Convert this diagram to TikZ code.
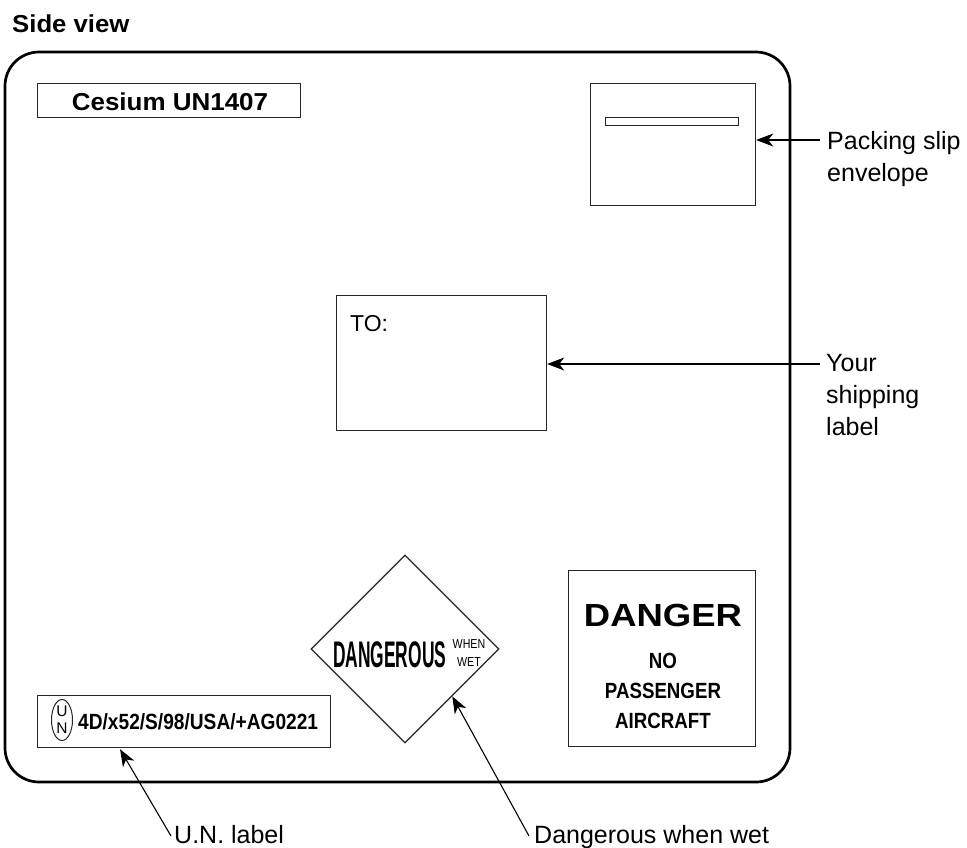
\documentclass[tikz,border=0pt]{standalone}
\usepackage{fontspec}
\setmainfont{Liberation Sans}
\usepackage{graphicx}
\usetikzlibrary{arrows.meta,shapes.geometric,calc}
\begin{document}
\begin{tikzpicture}[x=1pt,y=-1pt,
  box/.style={draw=black!85,line width=1.2pt,inner sep=0pt},
  frame/.style={draw,line width=2.7pt,rounded corners=34pt},
  lbl/.style={font=\fontsize{25}{32}\selectfont,align=left,inner sep=0pt},
  btxt/.style={inner sep=0pt,anchor=base},
  small/.style={inner sep=0pt,anchor=base,font=\fontsize{13}{13}\selectfont},
  ptr/.style={line width=1.1pt,-{Stealth[length=17pt,width=13pt,inset=5pt]}},
]
\useasboundingbox (0,0) rectangle (967,847);
% title
\node[anchor=base west,inner sep=0pt,font=\bfseries\fontsize{24.5}{24.5}\selectfont] (title) at (12,32) {\scalebox{1.05}[1]{Side view}};
% outer box
\draw[frame] (5,52) rectangle (790,782);
% Cesium label
\node[box,anchor=north west,minimum width=263pt,minimum height=34pt] (cesium) at (37,83) {};
\node[btxt,font=\bfseries\fontsize{24.5}{24.5}\selectfont] (cesiumtxt) at (170,110) {\scalebox{1.06}[1]{Cesium UN1407}};
% packing slip envelope
\node[box,anchor=north west,minimum width=165pt,minimum height=122pt] (env) at (590,83) {};
\node[box,line width=1pt,anchor=north west,minimum width=133pt,minimum height=8pt] (slot) at (605,117) {};
\node[lbl,anchor=north west] (packtxt) at (827,131) {Packing slip\\envelope};
\coordinate (packstart) at ($(packtxt.north west)+(-7,9)$);
\draw[ptr] (packstart) -- (packstart -| env.east);
% shipping label
\node[box,anchor=north west,minimum width=210pt,minimum height=135pt] (ship) at (336,295) {};
\node[anchor=base west,inner sep=0pt,font=\fontsize{23}{23}\selectfont] (to) at (350,331) {TO:};
\node[lbl,anchor=north west] (shiptxt) at (826,354) {Your\\shipping\\label};
\coordinate (shipstart) at ($(shiptxt.north west)+(-6,10)$);
\draw[ptr] (shipstart) -- (shipstart -| ship.east);
% dangerous when wet diamond
\node[diamond,draw=black!85,line width=1.2pt,minimum width=188pt,minimum height=188pt,inner sep=0pt] (dia) at (405,649) {};
\node[btxt,anchor=base west,font=\bfseries\fontsize{37}{37}\selectfont] (dgtxt) at (333,667) {\scalebox{0.47}[1]{DANGEROUS}};
\node[small] (whentxt) at (469,648) {\scalebox{0.82}[1]{WHEN}};
\node[small] (wettxt) at (469,666) {\scalebox{0.82}[1]{WET}};
% DANGER box
\node[box,anchor=north west,minimum width=187pt,minimum height=176pt] (dbox) at (568,570) {};
\node[btxt,font=\bfseries\fontsize{32}{32}\selectfont] (dangertxt) at (663,626) {\scalebox{1.14}[1]{DANGER}};
\node[btxt,font=\bfseries\fontsize{22}{22}\selectfont] (notxt) at (663,668) {\scalebox{0.85}[1]{NO}};
\node[btxt,font=\bfseries\fontsize{22}{22}\selectfont] (passtxt) at (663,698) {\scalebox{0.85}[1]{PASSENGER}};
\node[btxt,font=\bfseries\fontsize{22}{22}\selectfont] (airtxt) at (663,728) {\scalebox{0.85}[1]{AIRCRAFT}};
% UN label
\node[box,anchor=north west,minimum width=293pt,minimum height=52pt] (unbox) at (37,695) {};
\node[draw=black!85,ellipse,line width=1pt,minimum width=21pt,minimum height=41pt,inner sep=0pt,align=center,font=\fontsize{15.5}{17}\selectfont] (unc) at (62,720) {U\\N};
\node[anchor=base west,inner sep=0pt,font=\bfseries\fontsize{22}{22}\selectfont] (uncode) at (78,729) {\scalebox{0.87}[1]{4D/x52/S/98/USA/+AG0221}};
% bottom labels
\node[anchor=base west,inner sep=0pt,font=\fontsize{25}{25}\selectfont] (untxt) at (174,843) {U.N. label};
\node[anchor=base west,inner sep=0pt,font=\fontsize{25}{25}\selectfont] (dwtxt) at (534,843) {Dangerous when wet};
\draw[ptr] ($(untxt.base west)+(-3,-7)$) -- ($(unbox.south west)+(83,1)$);
\draw[ptr] ($(dwtxt.base west)+(-5,-7)$) -- (dia.south east);
\end{tikzpicture}
\end{document}
